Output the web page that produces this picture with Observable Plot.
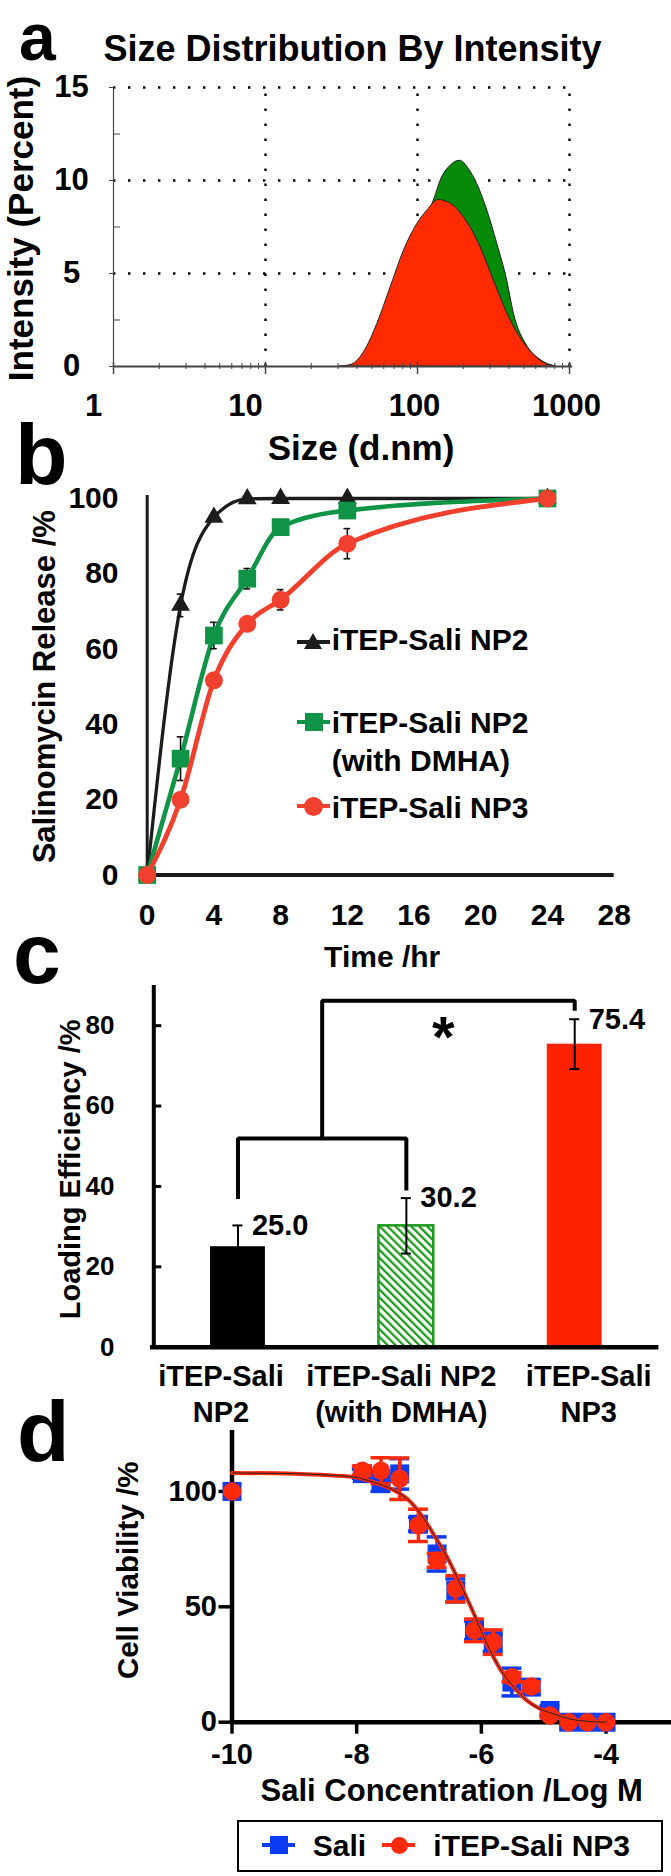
<!DOCTYPE html>
<html><head><meta charset="utf-8">
<script src="https://cdn.jsdelivr.net/npm/d3@7"></script>
<script src="https://cdn.jsdelivr.net/npm/@observablehq/plot@0.6"></script>
<style>
html,body{margin:0;padding:0;background:#fff;}
#fig{position:relative;width:671px;height:1876px;overflow:hidden;background:#fff;font-family:'Liberation Sans',Arial,Helvetica,sans-serif;font-weight:bold;color:#000;}
.letter{position:absolute;font-size:86px;line-height:44px;}
.lg{position:absolute;font-size:30px;line-height:30px;white-space:nowrap;}
.sw{position:absolute;}
</style></head>
<body><div id="fig"></div>
<script>
// ================= DATA =================
// (a) size distribution by intensity
const aSizeGreen = [36, 45, 55, 67, 82, 100, 115, 130, 142, 165, 190, 218, 247, 288, 335, 389, 431, 527, 645, 750, 820];
const aPctGreen  = [0, 0.4, 1.5, 3.0, 4.9, 6.8, 8.0, 9.06, 9.99, 10.79, 11.06, 10.61, 9.81, 8.38, 6.59, 4.62, 2.83, 1.1, 0.35, 0.08, 0];
const aSizeRed = [31, 37, 44.5, 54.4, 66.6, 81.5, 99.7, 116, 138, 165, 202, 260, 318, 410, 527, 645, 750, 809];
const aPctRed  = [0, 0.1, 0.77, 2.29, 4.26, 6.23, 7.66, 8.38, 8.95, 8.77, 8.02, 6.41, 4.62, 2.47, 1.04, 0.32, 0.05, 0];
const aTicksX = [1, 10, 100, 1000];
const aMinorX = [2,3,4,5,6,7,8,9,20,30,40,50,60,70,80,90,200,300,400,500,600,700,800,900];
const aTicksY = [0, 5, 10, 15];
const aMinorY = [2.5, 7.5, 12.5];
const aGridX = [10, 100, 1000];
const aGridY = [5, 10, 15];
const aTitle = "Size Distribution By Intensity";
const aXLabel = "Size (d.nm)";
const aYLabel = "Intensity (Percent)";

// (b) release
const bTime = [0, 2, 4, 6, 8, 12, 24];
const bNP2 = [0, 71.6, 95.0, 99.9, 100, 100, 100];
const bNP2Err = [0, 3, 1, 0, 0, 0, 0];
const bDMHA = [0, 30.9, 63.6, 78.7, 92.4, 96.8, 100];
const bDMHAErr = [0, 5.8, 3.5, 2.7, 1, 1, 0];
const bNP3 = [0, 20.0, 51.7, 66.7, 73.1, 88.0, 100];
const bNP3Err = [0, 1, 1, 1, 2.7, 4, 0];
const bTicksX = [0, 4, 8, 12, 16, 20, 24, 28];
const bTicksY = [0, 20, 40, 60, 80, 100];
const bXLabel = "Time /hr";
const bYLabel = "Salinomycin Release /%";
const bLegend = ["iTEP-Sali NP2", "iTEP-Sali NP2", "(with DMHA)", "iTEP-Sali NP3"];

// (c) loading efficiency
const cNames = ["iTEP-Sali\nNP2", "iTEP-Sali NP2\n(with DMHA)", "iTEP-Sali\nNP3"];
const cValues = [25.0, 30.2, 75.4];
const cErrors = [5.3, 6.9, 6.2];
const cTicksY = [0, 20, 40, 60, 80];
const cBracketSeg = ["low", "low", "low", "low", "top", "top", "top", "top"];
const cBracketX = [0, 0, 1, 1, 0.5, 0.5, 2, 2];
const cBracketY = [36.9, 51.9, 51.9, 39.0, 51.9, 86.2, 86.2, 83.7];
const cStar = {x: 1.22, y: 80.4, s: "*"};
const cYLabel = "Loading Efficiency /%";

// (d) cell viability
const dLogConc = [-10, -7.91, -7.61, -7.31, -7.01, -6.71, -6.41, -6.11, -5.81, -5.51, -5.2, -4.9, -4.6, -4.3, -4.0];
const dSaliY   = [100, 107.7, 104, 107.6, 85.8, 72.9, 57.1, 39.8, 34.7, 17.4, 15.2, 5.1, 0, 0, 0];
const dSaliErr = [0, 2, 4, 6.6, 3, 7.4, 5, 4, 4, 6, 3, 2, 0, 0, 0];
const dNP3Y    = [100, 109, 109, 105.5, 85.3, 70.1, 57.8, 39.8, 34.7, 19.5, 15.5, 2.9, 0, 0, 0];
const dNP3Err  = [0, 2, 5.6, 9, 7, 3, 5.7, 4.9, 5.3, 2, 2, 1, 0, 0, 0];
const dFitX    = [-10, -9, -8.58, -8.05, -7.73, -7.41, -7.2, -6.98, -6.77, -6.55, -6.34, -6.12, -5.91, -5.7, -5.48, -5.27, -5.06, -4.84, -4.58, -4.3, -4.0];
const dFitNP3  = [108, 107.7, 107.2, 106.2, 104, 100.6, 97, 90.4, 81.6, 71.5, 60, 47, 33.9, 23.1, 15.2, 9.4, 5.8, 3.6, 1.4, 0.4, 0];
const dFitSali = [108, 107.7, 107.2, 106.2, 104, 100.6, 97, 90.4, 81.6, 71.5, 60, 47, 33.9, 23.1, 15.2, 9.4, 5.8, 3.6, 1.4, 0.4, 0];
const dTicksX = [-10, -8, -6, -4];
const dTicksY = [0, 50, 100];
const dXLabel = "Sali Concentration /Log M";
const dYLabel = "Cell Viability /%";
const dLegend = ["Sali", "iTEP-Sali NP3"];

const panelLetters = ["a", "b", "c", "d"];

// ================= RENDER =================
const FONT = "'Liberation Sans', Arial, Helvetica, sans-serif";
const W = 671;
const fig = document.getElementById("fig");
const style = {fontFamily: FONT, fontWeight: "bold", background: "transparent", color: "#000", overflow: "visible"};
function put(node, top) {
  node.style.position = "absolute"; node.style.left = "0px"; node.style.top = top + "px";
  fig.appendChild(node); return node;
}
function div(cls, css, text) {
  const e = document.createElement("div");
  e.className = cls; e.style.cssText = css; if (text != null) e.textContent = text;
  fig.appendChild(e); return e;
}
const label1 = (s) => [s];
const yTitle = (s, dx, dy, fontSize) => Plot.text(label1(s), {text: d => d, frameAnchor: "left", rotate: -90, textAnchor: "middle", lineAnchor: "bottom", dx, dy, fontSize});

// ---------- panel a ----------
const greenRows = aSizeGreen.map((s, i) => ({size: s, pct: aPctGreen[i]}));
const redRows = aSizeRed.map((s, i) => ({size: s, pct: aPctRed[i]}));
const dotted = {stroke: "#000", strokeWidth: 2.4, strokeDasharray: "2.4,12.6"};
const svgA = Plot.plot({
  width: W, height: 475, marginLeft: 113, marginRight: 102, marginTop: 87, marginBottom: 109,
  x: {type: "log", domain: [1, 1000], axis: null},
  y: {domain: [0, 15], axis: null},
  style,
  marks: [
    Plot.ruleX(aGridX, {x: d => d, y1: 0, y2: 15, ...dotted}),
    Plot.ruleY(aGridY, {y: d => d, x1: 1, x2: 1000, ...dotted}),
    Plot.areaY(greenRows, {x: "size", y: "pct", fill: "#078a07", stroke: "#222", strokeWidth: 1, curve: "monotone-x"}),
    Plot.areaY(redRows, {x: "size", y: "pct", fill: "#ff2a00", stroke: "#222", strokeWidth: 1, curve: "monotone-x"}),
    Plot.ruleX([1], {y1: 0, y2: 15, stroke: "#444", strokeWidth: 1.2}),
    Plot.ruleY([0], {x1: 1, x2: 1050, stroke: "#444", strokeWidth: 2}),
    Plot.axisX({ticks: aMinorX, tickSize: 6, dy: -3, fill: "none", stroke: "#444", strokeWidth: 1}),
    Plot.axisX({ticks: aTicksX, tickSize: 12, dy: -4, fill: "none", stroke: "#444", strokeWidth: 1.5}),
    Plot.axisY({ticks: aTicksY, tickSize: 4, fill: "none", stroke: "#444"}),
    Plot.axisY({ticks: aMinorY, tickSize: 7, dx: 7, fill: "none", stroke: "#444"}),
    Plot.text(aTicksX.filter(d => d < 100), {x: d => d, text: d => String(d), frameAnchor: "bottom", lineAnchor: "bottom", dy: 49, dx: -20, fontSize: 31}),
    Plot.text(aTicksX.filter(d => d >= 100), {x: d => d, text: d => String(d), frameAnchor: "bottom", lineAnchor: "bottom", dy: 49, dx: -3, fontSize: 31}),
    Plot.text(aTicksY, {y: d => d, text: d => String(d), frameAnchor: "left", textAnchor: "middle", dx: -42, fontSize: 31}),
    Plot.text(label1(aTitle), {text: d => d, frameAnchor: "top", textAnchor: "middle", lineAnchor: "bottom", dy: -27, dx: 11, fontSize: 36}),
    Plot.text(label1(aXLabel), {text: d => d, frameAnchor: "bottom", textAnchor: "middle", lineAnchor: "bottom", dy: 93, dx: 19.5, fontSize: 35}),
    yTitle(aYLabel, -81, 1.5, 35)
  ]
});
put(svgA, 0);

// ---------- panel b ----------
const bRows = (vals, errs) => bTime.map((t, i) => ({t, v: vals[i], err: errs[i]}));
function bSeries(rows, color, symbol, r, sw) {
  const er = rows.filter(d => d.err > 0);
  const bar = {stroke: "#111", strokeWidth: 1.6};
  return [
    Plot.line(rows, {x: "t", y: "v", stroke: color, strokeWidth: sw, curve: "monotone-x"}),
    Plot.ruleX(er, {x: "t", y1: d => d.v - d.err, y2: d => d.v + d.err, ...bar}),
    Plot.ruleY(er, {y: d => d.v + d.err, x1: d => d.t - 0.2, x2: d => d.t + 0.2, ...bar}),
    Plot.ruleY(er, {y: d => d.v - d.err, x1: d => d.t - 0.2, x2: d => d.t + 0.2, ...bar}),
    Plot.dot(rows, {x: "t", y: "v", symbol, r, fill: color, stroke: "none"})
  ];
}
const svgB = Plot.plot({
  width: W, height: 500, marginLeft: 146.7, marginRight: 57.3, marginTop: 23, marginBottom: 100.5,
  x: {domain: [0, 28], axis: null},
  y: {domain: [0, 100], axis: null},
  style,
  marks: [
    Plot.ruleY([0], {x1: 0, x2: 28, stroke: "#1a1a1a", strokeWidth: 4}),
    Plot.ruleX([0], {y1: 0, y2: 100.8, stroke: "#1a1a1a", strokeWidth: 3}),
    ...bSeries(bRows(bNP2, bNP2Err), "#1c1c1c", "triangle", 7, 3.3),
    ...bSeries(bRows(bDMHA, bDMHAErr), "#0f9447", "square", 10, 4.6),
    ...bSeries(bRows(bNP3, bNP3Err), "#f2402e", "circle", 9, 4.8),
    Plot.text(bTicksY, {y: d => d, text: d => String(d), frameAnchor: "left", textAnchor: "end", dx: -28.7, fontSize: 30}),
    Plot.text(bTicksX, {x: d => d, text: d => String(d), frameAnchor: "bottom", textAnchor: "middle", lineAnchor: "top", dy: 28.5, fontSize: 30}),
    Plot.text(label1(bXLabel), {text: d => d, frameAnchor: "bottom", textAnchor: "middle", lineAnchor: "bottom", dy: 92.2, dx: 1.5, fontSize: 30}),
    yTitle(bYLabel, -92.7, 0, 31)
  ]
});
put(svgB, 475);

// ---------- panel c ----------
const cRows = cNames.map((n, i) => ({i, name: n, value: cValues[i], err: cErrors[i]}));
const cHalf = 0.163;
const cFills = ["#000000", "url(#hatchG)", "#ff2200"];
const cStrokes = ["none", "#1c9a1c", "none"];
const cLabelDx = [-17, -5, 14];
const cBracket = cBracketX.map((x, i) => ({x, y: cBracketY[i], seg: cBracketSeg[i]}));
const cap = 0.03;
const svgC = Plot.plot({
  width: W, height: 440, marginLeft: 153.3, marginRight: 12.6, marginTop: 10, marginBottom: 68.3,
  x: {domain: [-0.5, 2.5], axis: null},
  y: {domain: [0, 90], axis: null},
  style,
  marks: [
    ...cRows.map((row, k) => Plot.rect([row], {x1: d => d.i - cHalf, x2: d => d.i + cHalf, y1: 0, y2: "value", fill: cFills[k], stroke: cStrokes[k], strokeWidth: 2.5})),
    Plot.ruleY([0], {x1: -0.52, x2: 2.5, stroke: "#000", strokeWidth: 4.5}),
    Plot.ruleX([-0.5], {y1: 0, y2: 90, stroke: "#000", strokeWidth: 4}),
    Plot.axisY({ticks: cTicksY, tickSize: 8, dx: 8, fill: "none", strokeWidth: 3}),
    Plot.ruleX(cRows, {x: "i", y1: d => d.value - d.err, y2: d => d.value + d.err, stroke: "#000", strokeWidth: 2}),
    Plot.ruleY(cRows, {y: d => d.value + d.err, x1: d => d.i - cap, x2: d => d.i + cap, stroke: "#000", strokeWidth: 2}),
    Plot.ruleY(cRows, {y: d => d.value - d.err, x1: d => d.i - cap, x2: d => d.i + cap, stroke: "#000", strokeWidth: 2}),
    Plot.text(cRows, {x: "i", y: d => d.value + d.err, text: d => d.value.toFixed(1), textAnchor: "start", dx: 14, fontSize: 29}),
    Plot.line(cBracket, {x: "x", y: "y", z: "seg", stroke: "#000", strokeWidth: 4, strokeLinejoin: "miter", strokeLinecap: "butt"}),
    Plot.text([cStar], {x: "x", y: "y", text: "s", fontSize: 58, dy: 14}),
    ...cRows.map((row, k) => Plot.text([row], {x: "i", text: "name", frameAnchor: "bottom", textAnchor: "middle", lineAnchor: "top", dy: 13.3, dx: cLabelDx[k], lineHeight: 1.24, fontSize: 29})),
    Plot.text(cTicksY, {y: d => d, text: d => String(d), frameAnchor: "left", textAnchor: "end", dx: -39.3, fontSize: 26}),
    yTitle(cYLabel, -73.5, 3, 29)
  ]
});
{
  const ns = "http://www.w3.org/2000/svg";
  const defs = document.createElementNS(ns, "defs");
  defs.innerHTML = '<pattern id="hatchG" patternUnits="userSpaceOnUse" width="5.6" height="5.6" patternTransform="rotate(-45)"><rect width="5.6" height="5.6" fill="#ffffff"/><rect width="2.3" height="5.6" fill="#1c9a1c"/></pattern>';
  svgC.insertBefore(defs, svgC.firstChild);
}
put(svgC, 975);

// ---------- panel d ----------
const dRows = (ys, es) => dLogConc.map((x, i) => ({x, y: ys[i], err: es[i]}));
const sali = dRows(dSaliY, dSaliErr), np3 = dRows(dNP3Y, dNP3Err);
const fitNP3 = dFitX.map((x, i) => ({x, y: dFitNP3[i]}));
const fitSali = dFitX.map((x, i) => ({x, y: dFitSali[i]}));
const BLUE = "#0c3cf2", RED = "#ff2a0a";
function dErr(rows, color) {
  const er = rows.filter(d => d.err > 0);
  const st = {stroke: color, strokeWidth: 3.5};
  return [
    Plot.ruleX(er, {x: "x", y1: d => d.y - d.err, y2: d => d.y + d.err, ...st}),
    Plot.ruleY(er, {y: d => d.y + d.err, x1: d => d.x - 0.16, x2: d => d.x + 0.16, ...st}),
    Plot.ruleY(er, {y: d => d.y - d.err, x1: d => d.x - 0.16, x2: d => d.x + 0.16, ...st})
  ];
}
const svgD = Plot.plot({
  width: W, height: 395, marginLeft: 231.5, marginRight: 0, marginTop: 15, marginBottom: 88.3,
  x: {domain: [-10, -2.95], axis: null},
  y: {domain: [0, 126.4], axis: null},
  style,
  marks: [
    Plot.ruleY([0], {x1: -10, x2: -2.95, stroke: "#000", strokeWidth: 4.5}),
    Plot.ruleX([-10], {y1: 0, y2: 126.4, stroke: "#000", strokeWidth: 4.5}),
    Plot.axisX({ticks: dTicksX, tickSize: 12, strokeWidth: 3.5, fill: "none"}),
    Plot.axisY({ticks: dTicksY, tickSize: 13, strokeWidth: 3.5, fill: "none"}),
    ...dErr(sali, BLUE),
    Plot.dot(sali, {x: "x", y: "y", symbol: "square", r: 10.7, fill: BLUE, stroke: "none"}),
    ...dErr(np3, RED),
    Plot.dot(np3, {x: "x", y: "y", symbol: "circle", r: 9.2, fill: RED, stroke: "none"}),
    Plot.line(fitNP3, {x: "x", y: "y", stroke: RED, strokeWidth: 4, curve: "monotone-x"}),
    Plot.line(fitSali, {x: "x", y: "y", stroke: "#222", strokeWidth: 1, curve: "monotone-x"}),
    Plot.text(dTicksX, {x: d => d, text: d => String(d), frameAnchor: "bottom", textAnchor: "middle", lineAnchor: "top", dy: 21.6, fontSize: 29}),
    Plot.text(dTicksY, {y: d => d, text: d => String(d), frameAnchor: "left", textAnchor: "end", dx: -15, fontSize: 29}),
    Plot.text(label1(dXLabel), {text: d => d, frameAnchor: "bottom", textAnchor: "middle", lineAnchor: "bottom", dy: 78.3, fontSize: 31}),
    yTitle(dYLabel, -94, -6, 29.5)
  ]
});
put(svgD, 1415);

// ---------- legends (HTML) ----------
// panel b legend
div("sw", "left:296.7px;top:639.7px;width:33.3px;height:4px;background:#1c1c1c;");
div("sw", "left:303.5px;top:633px;width:0;height:0;border-left:9.5px solid transparent;border-right:9.5px solid transparent;border-bottom:16px solid #1c1c1c;");
div("lg", "left:331.7px;top:624.6px;", bLegend[0]);
div("sw", "left:296.7px;top:719.5px;width:33.3px;height:4.5px;background:#0f9447;");
div("sw", "left:304.5px;top:712.5px;width:18px;height:18px;background:#0f9447;");
div("lg", "left:331.7px;top:707.9px;", bLegend[1]);
div("lg", "left:331.7px;top:746.3px;", bLegend[2]);
div("sw", "left:296.7px;top:803.6px;width:33.3px;height:4.8px;background:#f2402e;");
div("sw", "left:303.5px;top:796.5px;width:19px;height:19px;border-radius:50%;background:#f2402e;");
div("lg", "left:331.7px;top:792.9px;", bLegend[3]);

// panel d legend
div("sw", "left:236.7px;top:1820px;width:426.3px;height:51.7px;border:2.6px solid #000;box-sizing:border-box;");
div("sw", "left:261.7px;top:1843px;width:33.3px;height:4px;background:" + BLUE + ";");
div("sw", "left:270px;top:1836px;width:18px;height:18px;background:" + BLUE + ";");
div("lg", "left:312.7px;top:1831.3px;", dLegend[0]);
div("sw", "left:381.7px;top:1843px;width:33.3px;height:4px;background:" + RED + ";");
div("sw", "left:390.8px;top:1836.5px;width:17px;height:17px;border-radius:50%;background:" + RED + ";");
div("lg", "left:433.3px;top:1831.3px;", dLegend[1]);

// panel letters (line-height 44px: baseline = top + 22 + 0.3465*fontSize)
const letterPos = [[19, 15.1, 66], [15, 432.2, 86], [13, 931.2, 86], [17, 1409.2, 86]];
panelLetters.forEach((t, i) => div("letter", `left:${letterPos[i][0]}px;top:${letterPos[i][1]}px;font-size:${letterPos[i][2]}px;`, t));
</script></body></html>
